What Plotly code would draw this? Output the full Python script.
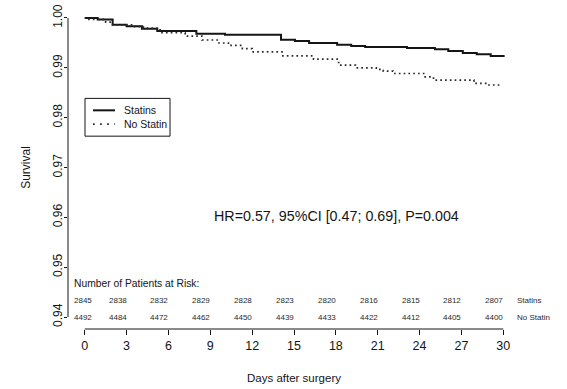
import plotly.graph_objects as go

# ---- data ----
statin_days = [0, 0.93, 2.0, 3.0, 4.1, 5.2, 8.0, 10.05, 14.07, 15.07, 16.08, 18.09,
               19.1, 20.1, 23.1, 25.1, 26.06, 27.1, 28.1, 29.1, 30.1]
statin_surv = [1.0, 0.9997, 0.99866, 0.99836, 0.99783, 0.99737, 0.99683, 0.99663,
               0.99563, 0.99538, 0.99498, 0.99464, 0.99438, 0.99418, 0.99398,
               0.99372, 0.99338, 0.99298, 0.99272, 0.99239, 0.99239]

nostatin_days = [0, 0.3, 1.5, 2.0, 3.5, 4.2, 5.4, 7.2, 8.4, 9.5, 10.3, 11.3, 12.0,
                 14.2, 16.4, 18.2, 19.4, 20.9, 21.4, 22.1, 24.4, 25.0, 27.9, 28.9, 29.9]
nostatin_surv = [1.0, 0.9997, 0.99916, 0.99862, 0.99827, 0.99797, 0.99703, 0.99637,
                 0.99558, 0.99498, 0.99452, 0.99384, 0.99318, 0.99239, 0.99173,
                 0.99053, 0.99000, 0.98970, 0.98934, 0.98886, 0.98820, 0.98754,
                 0.98686, 0.98655, 0.98655]

risk_days = [0, 3, 6, 9, 12, 15, 18, 21, 24, 27, 30]
risk_statins = [2845, 2838, 2832, 2829, 2828, 2823, 2820, 2816, 2815, 2812, 2807]
risk_nostatin = [4492, 4484, 4472, 4462, 4450, 4439, 4433, 4422, 4412, 4405, 4400]

y_ticks = [0.94, 0.95, 0.96, 0.97, 0.98, 0.99, 1.00]
y_ticklabels = ["0.94", "0.95", "0.96", "0.97", "0.98", "0.99", "1.00"]
series_names = ["Statins", "No Statin"]
hr_text = "HR=0.57, 95%CI [0.47; 0.69], P=0.004"

FONT = "Arial, Liberation Sans, Helvetica, sans-serif"
INK = "#151515"
GREY = "#2a2a2a"
solid_style = dict(color=INK, width=2)
dot_style = dict(color=GREY, width=1.7, dash="1.7px,3.1px")

fig = go.Figure()
fig.add_trace(go.Scatter(
    x=statin_days, y=statin_surv, mode="lines", name=series_names[0],
    line=dict(shape="hv", **solid_style), showlegend=False))
fig.add_trace(go.Scatter(
    x=nostatin_days, y=nostatin_surv, mode="lines", name=series_names[1],
    line=dict(shape="hv", **dot_style), showlegend=False))

# axis lines drawn only between first and last tick (R style)
fig.add_shape(type="line", xref="x", yref="paper", x0=risk_days[0], x1=risk_days[-1],
              y0=0, y1=0, line=dict(color=INK, width=1))
fig.add_shape(type="line", xref="paper", yref="y", x0=0, x1=0,
              y0=y_ticks[0], y1=y_ticks[-1], line=dict(color=INK, width=1))

# legend box (R-style) drawn in paper coordinates
fig.add_shape(type="rect", xref="paper", yref="paper", x0=0.0376, x1=0.2257,
              y0=0.597, y1=0.714, line=dict(color=INK, width=1), fillcolor="white")
fig.add_shape(type="line", xref="paper", yref="paper", x0=0.0553, x1=0.104,
              y0=0.677, y1=0.677, line=solid_style)
fig.add_shape(type="line", xref="paper", yref="paper", x0=0.0553, x1=0.104,
              y0=0.634, y1=0.634, line=dict(color=GREY, width=1.7, dash="1.7px,5.4px"))

annotations = []
for name, yy in zip(series_names, [0.677, 0.634]):
    annotations.append(dict(text=name, xref="paper", yref="paper", x=0.1195, y=yy,
                            xanchor="left", yanchor="middle", showarrow=False,
                            font=dict(family=FONT, size=10.5, color=INK)))
annotations.append(dict(text="Number of Patients at Risk:", xref="paper", yref="paper",
                        x=0.0088, y=0.1415, xanchor="left", yanchor="middle",
                        showarrow=False, font=dict(family=FONT, size=10.3, color=INK)))
for d, s, n in zip(risk_days, risk_statins, risk_nostatin):
    shift = -2 if d == 0 else -9
    annotations.append(dict(text=str(s), xref="x", yref="paper", x=d, y=0.087,
                            xshift=shift, showarrow=False, xanchor="center", yanchor="middle",
                            font=dict(family=FONT, size=8, color=GREY)))
    annotations.append(dict(text=str(n), xref="x", yref="paper", x=d, y=0.036,
                            xshift=shift, showarrow=False, xanchor="center", yanchor="middle",
                            font=dict(family=FONT, size=8, color=GREY)))
for name, yy in zip(series_names, [0.087, 0.036]):
    annotations.append(dict(text=name, xref="paper", yref="paper", x=0.989, y=yy,
                            xanchor="left", yanchor="middle", showarrow=False,
                            font=dict(family=FONT, size=8, color=GREY)))
annotations.append(dict(text=hr_text, xref="paper", yref="paper", x=0.3186, y=0.351,
                        xanchor="left", yanchor="middle", showarrow=False,
                        font=dict(family=FONT, size=14.3, color=INK)))

fig.update_layout(
    width=567, height=389,
    margin=dict(l=68, r=47, t=4, b=60),
    paper_bgcolor="white", plot_bgcolor="white",
    font=dict(family=FONT, color=INK),
    showlegend=False,
    annotations=annotations,
    xaxis=dict(range=[-1.2, 31.2], tickmode="array", tickvals=risk_days,
               ticktext=[str(d) for d in risk_days],
               showgrid=False, zeroline=False, showline=False,
               ticks="outside", ticklen=5, tickwidth=1, tickcolor=INK,
               tickfont=dict(family=FONT, size=12.5, color=INK),
               title=dict(text="Days after surgery", font=dict(family=FONT, size=11.5, color=INK),
                          standoff=21)),
    yaxis=dict(range=[0.9376, 1.0024], tickmode="array", tickvals=y_ticks,
               ticktext=y_ticklabels, tickangle=-90,
               showgrid=False, zeroline=False, showline=False,
               ticks="outside", ticklen=3, tickwidth=1, tickcolor=INK,
               ticklabelstandoff=-3,
               tickfont=dict(family=FONT, size=12, color=INK),
               title=dict(text="Survival", font=dict(family=FONT, size=12, color=INK),
                          standoff=18)),
)

fig.write_html("out.html", config={"displayModeBar": False},
               post_script="document.body.style.margin='0px';")
